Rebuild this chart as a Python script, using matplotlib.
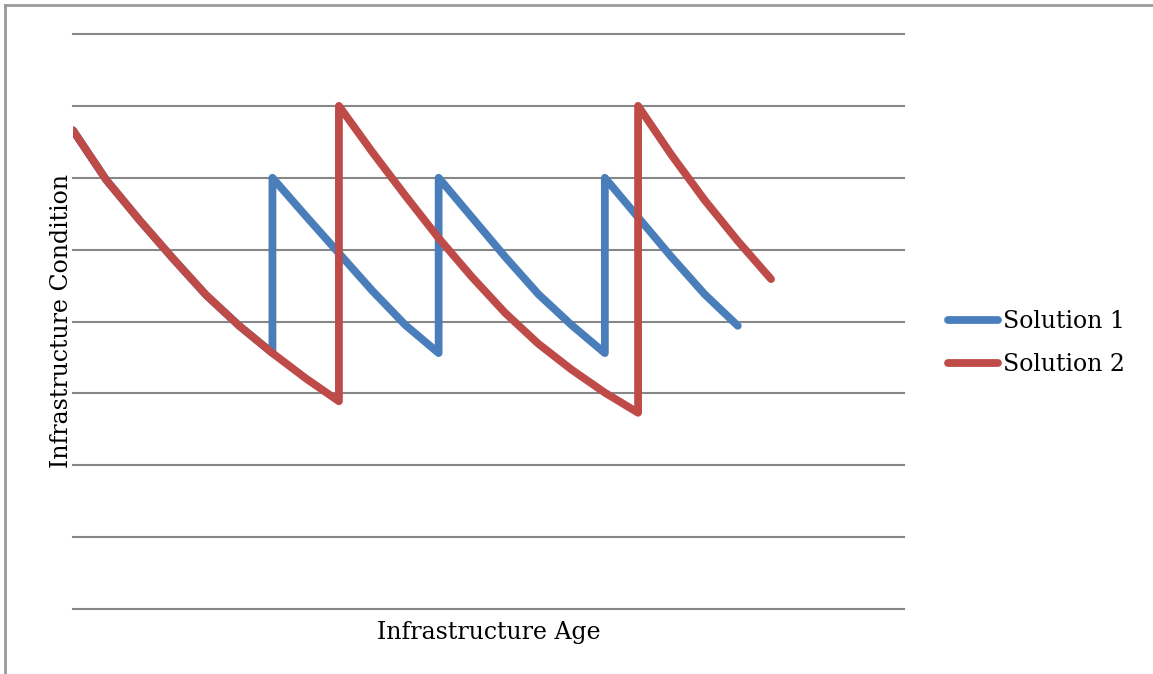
import matplotlib
matplotlib.use('Agg')
import matplotlib.pyplot as plt
from matplotlib.lines import Line2D

# data (x = age step, y = condition in gridline units)
x_sol1 = [0, 1, 2, 3, 4, 5, 6, 6, 7, 8, 9, 10, 11, 11, 12, 13, 14, 15, 16, 16, 17, 18, 19, 20]
y_sol1 = [6.66, 5.97, 5.41, 4.88, 4.37, 3.94, 3.56, 6.0, 5.47, 4.95, 4.43, 3.95, 3.56,
          6.0, 5.45, 4.90, 4.38, 3.95, 3.56, 6.0, 5.45, 4.90, 4.38, 3.94]

x_sol2 = [0, 1, 2, 3, 4, 5, 6, 7, 8, 8, 9, 10, 11, 12, 13, 14, 15, 16, 17, 17, 18, 19, 20, 21]
y_sol2 = [6.66, 5.97, 5.41, 4.88, 4.37, 3.94, 3.56, 3.21, 2.89, 7.0, 6.36, 5.75, 5.16,
          4.62, 4.12, 3.69, 3.33, 3.01, 2.73, 7.0, 6.32, 5.69, 5.12, 4.59]

labels = ['Solution 1', 'Solution 2']
colors = ['#4A7EBB', '#BE4B48']

font = 'DejaVu Serif'
fs = 17

fig = plt.figure(figsize=(11.53, 6.74), dpi=100)
ax = fig.add_axes([73/1153, 1-609/674, (904-73)/1153, (609-34)/674])

ax.plot(x_sol1, y_sol1, color=colors[0], lw=5.6, solid_capstyle='round',
        solid_joinstyle='round', label=labels[0], zorder=3)
ax.plot(x_sol2, y_sol2, color=colors[1], lw=5.6, solid_capstyle='round',
        solid_joinstyle='round', label=labels[1], zorder=4)

ax.set_xlim(0, 25)
ax.set_ylim(0, 8)
for g in range(0, 9):
    ax.axhline(g, color='#878787', lw=1.5, zorder=1, clip_on=False)
ax.set_xticks([])
ax.set_yticks([])
for s in ax.spines.values():
    s.set_visible(False)

ax.set_xlabel('Infrastructure Age', family=font, fontsize=fs, labelpad=9)
ax.set_ylabel('Infrastructure Condition', family=font, fontsize=fs, labelpad=0)

leg = ax.legend(loc='center left', bbox_to_anchor=(1.042, 0.462), frameon=False,
                prop={'family': font, 'size': fs}, handlelength=2.1,
                handletextpad=0.2, labelspacing=0.85, borderaxespad=0)

# outer chart frame (only top and left edges visible)
fig.add_artist(Line2D([5/1153, 5/1153], [0, 1-5/674], transform=fig.transFigure,
                      color='#9a9a9a', lw=2))
fig.add_artist(Line2D([5/1153, 1], [1-5/674, 1-5/674], transform=fig.transFigure,
                      color='#9a9a9a', lw=2))

fig.savefig('out.png', dpi=100)
